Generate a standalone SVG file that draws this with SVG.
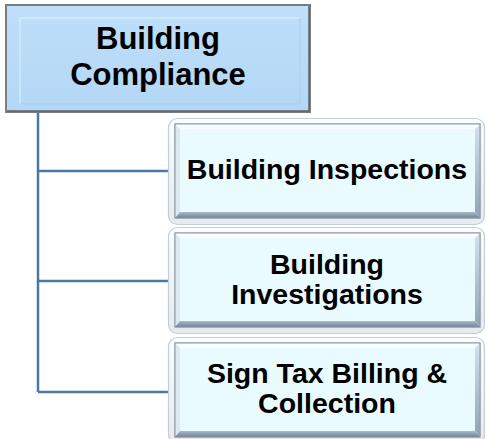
<svg xmlns="http://www.w3.org/2000/svg" width="486" height="439" viewBox="0 0 486 439">
  <defs>
    <linearGradient id="frameG" x1="0" y1="0" x2="0" y2="1">
      <stop offset="0" stop-color="#fbfcfd"/>
      <stop offset="1" stop-color="#e6ebef"/>
    </linearGradient>
    <linearGradient id="rightG" x1="0" y1="0" x2="0" y2="1">
      <stop offset="0" stop-color="#d4e2ec"/>
      <stop offset="1" stop-color="#8fa4b6"/>
    </linearGradient>
    <linearGradient id="bottomG" x1="0" y1="0" x2="0" y2="1">
      <stop offset="0" stop-color="#a9bccb"/>
      <stop offset="1" stop-color="#6f8294"/>
    </linearGradient>
    <linearGradient id="topFace" x1="0" y1="0" x2="0" y2="1">
      <stop offset="0" stop-color="#bfdffa"/>
      <stop offset="1" stop-color="#b3d7f6"/>
    </linearGradient>
  </defs>
  <style>
    .t { font-family: "Liberation Sans", Arial, sans-serif; font-weight: bold; fill: #000; text-anchor: middle; }
    .top { font-size: 31px; }
    .child { font-size: 28.5px; }
    .conn { stroke: #4a79a8; stroke-width: 2.5; fill: none; }
    .frame { fill: url(#frameG); stroke: #c3ced7; stroke-width: 1.2; }
    .inner { fill: #eafbff; stroke: #8b9aa8; stroke-width: 1; }
    .bt { fill: #f8feff; }
    .bl { fill: #dbe8f0; }
    .br { fill: url(#rightG); }
    .bb { fill: url(#bottomG); }
  </style>

  <g id="connectors">
    <path class="conn" d="M38 112 V392"/>
    <path class="conn" d="M38 171 H169"/>
    <path class="conn" d="M38 281 H169"/>
    <path class="conn" d="M38 392 H169"/>
  </g>

  <g id="building-compliance">
    <rect x="6" y="5" width="304" height="107" fill="url(#topFace)" stroke="#7c7c7c" stroke-width="2"/>
    <path d="M7 111 H309 V6" fill="none" stroke="#5f6366" stroke-width="1.5"/>
    <path d="M20 104 V18 H300" fill="none" stroke="#d3eafd" stroke-width="1.5"/>
    <path d="M300 18 V104 H20" fill="none" stroke="#a9cdec" stroke-width="1"/>
    <text class="t top" x="158" y="49">Building</text>
    <text class="t top" x="158" y="85">Compliance</text>
  </g>

  <g id="building-inspections">
    <rect class="frame" x="168.5" y="118.5" width="316" height="106" rx="9"/>
    <rect class="inner" x="175" y="124" width="305" height="94"/>
    <polygon class="bt" points="175,124 480,124 475,129 180,129"/>
    <polygon class="bl" points="175,124 180,129 180,212 175,218"/>
    <polygon class="br" points="480,124 480,218 475,212 475,129"/>
    <polygon class="bb" points="175,218 480,218 475,212 180,212"/>
    <rect x="175" y="124" width="305" height="94" fill="none" stroke="#8b9aa8" stroke-width="1"/>
    <text class="t child" x="327" y="179">Building Inspections</text>
  </g>

  <g id="building-investigations">
    <rect class="frame" x="168.5" y="227.5" width="316" height="106" rx="9"/>
    <rect class="inner" x="175" y="233" width="305" height="94"/>
    <polygon class="bt" points="175,233 480,233 475,238 180,238"/>
    <polygon class="bl" points="175,233 180,238 180,321 175,327"/>
    <polygon class="br" points="480,233 480,327 475,321 475,238"/>
    <polygon class="bb" points="175,327 480,327 475,321 180,321"/>
    <rect x="175" y="233" width="305" height="94" fill="none" stroke="#8b9aa8" stroke-width="1"/>
    <text class="t child" x="327" y="274">Building</text>
    <text class="t child" x="327" y="304">Investigations</text>
  </g>

  <g id="sign-tax-billing">
    <rect class="frame" x="168.5" y="337.5" width="316" height="106" rx="9"/>
    <rect class="inner" x="175" y="343" width="305" height="94"/>
    <polygon class="bt" points="175,343 480,343 475,348 180,348"/>
    <polygon class="bl" points="175,343 180,348 180,431 175,437"/>
    <polygon class="br" points="480,343 480,437 475,431 475,348"/>
    <polygon class="bb" points="175,437 480,437 475,431 180,431"/>
    <rect x="175" y="343" width="305" height="94" fill="none" stroke="#8b9aa8" stroke-width="1"/>
    <text class="t child" x="327" y="383">Sign Tax Billing &amp;</text>
    <text class="t child" x="327" y="413">Collection</text>
  </g>
</svg>
